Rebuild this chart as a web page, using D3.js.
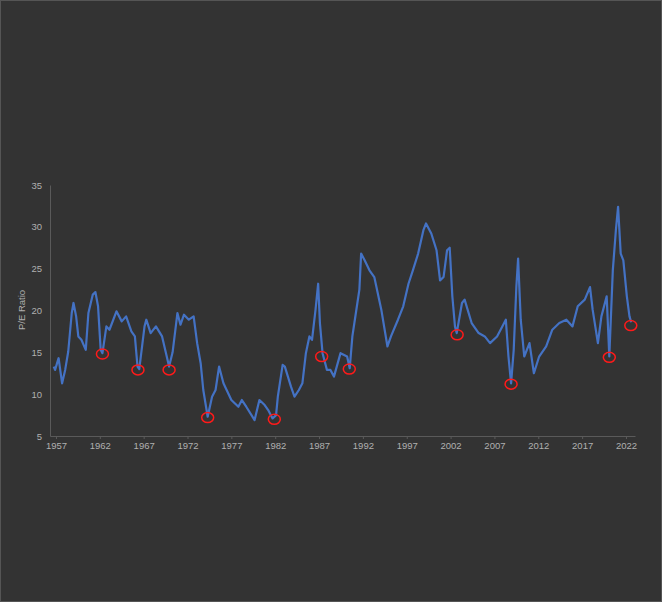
<!DOCTYPE html><html><head><meta charset="utf-8"><script src="https://cdn.jsdelivr.net/npm/d3@7"></script>
<style>body{margin:0;background:#333333}svg{display:block}</style></head><body><script>
const years=[1956.75,1956.9,1957.3,1957.7,1958.05,1958.4,1958.8,1959.0,1959.3,1959.55,1959.9,1960.4,1960.7,1961.2,1961.5,1961.8,1962.1,1962.3,1962.75,1963.1,1963.9,1964.5,1965.0,1965.6,1966.0,1966.3,1966.5,1967.1,1967.3,1967.8,1968.4,1969.1,1969.9,1970.3,1970.85,1971.2,1971.6,1972.15,1972.7,1973.1,1973.5,1973.8,1974.3,1974.8,1975.2,1975.6,1976.1,1977.0,1977.8,1978.2,1978.7,1979.65,1980.2,1980.8,1981.2,1981.7,1982.1,1982.3,1982.85,1983.1,1983.8,1984.2,1984.7,1985.1,1985.5,1985.9,1986.2,1986.6,1986.9,1987.1,1987.4,1987.9,1988.3,1988.7,1989.45,1990.2,1990.5,1990.8,1991.2,1991.6,1991.8,1992.2,1992.75,1993.3,1994.1,1994.8,1995.2,1996.0,1996.6,1997.2,1997.7,1998.3,1998.9,1999.2,1999.8,2000.4,2000.8,2001.2,2001.6,2001.9,2002.2,2002.5,2002.7,2003.3,2003.6,2004.4,2005.2,2005.9,2006.5,2007.3,2007.9,2008.3,2008.6,2008.9,2009.2,2009.5,2009.7,2010.0,2010.4,2011.0,2011.5,2012.1,2012.9,2013.6,2014.4,2015.2,2015.9,2016.5,2017.3,2017.9,2018.2,2018.8,2019.2,2019.8,2020.1,2020.5,2020.85,2021.1,2021.4,2021.7,2022.1,2022.4,2022.6];
const pe=[13.3,12.9,14.3,11.3,12.9,15.1,19.7,20.9,19.3,16.9,16.5,15.3,19.7,21.9,22.2,20.5,15.3,14.9,18.1,17.7,19.9,18.7,19.3,17.5,16.9,13.3,13.0,18.1,18.9,17.3,18.1,16.9,13.3,15.0,19.7,18.3,19.5,18.9,19.3,16.1,13.7,10.5,7.3,9.7,10.5,13.3,11.3,9.3,8.5,9.3,8.5,6.9,9.3,8.7,8.1,7.1,7.5,9.7,13.5,13.3,10.9,9.7,10.5,11.3,14.9,16.9,16.5,20.1,23.2,18.5,14.9,12.9,12.9,12.1,14.9,14.5,13.1,16.9,19.7,22.5,26.8,26.0,24.8,24.0,20.1,15.7,16.9,18.9,20.5,23.2,24.8,26.8,29.6,30.4,29.2,27.2,23.6,24.0,27.2,27.5,21.7,18.1,17.3,20.9,21.3,18.5,17.3,16.9,16.1,16.9,18.1,18.9,14.5,11.3,15.3,22.8,26.2,18.9,14.5,16.1,12.5,14.5,15.7,17.7,18.5,18.9,18.1,20.5,21.3,22.8,20.1,16.1,19.3,21.7,14.5,24.8,29.6,32.4,26.8,26.0,21.7,19.3,18.6];
const circYears=[1962.3,1966.35,1969.9,1974.3,1981.9,1987.3,1990.45,2002.75,2008.9,2020.1,2022.55];
const circVals=[14.8,12.9,12.9,7.2,7.0,14.5,13.0,17.1,11.2,14.4,18.2];
const yTicks=[5,10,15,20,25,30,35];
const xTicks=[1957,1962,1967,1972,1977,1982,1987,1992,1997,2002,2007,2012,2017,2022];
const W=662,H=602;
const svg=d3.select("body").append("svg").attr("width",W).attr("height",H);
svg.append("rect").attr("x",0.5).attr("y",0.5).attr("width",W-1).attr("height",H-1).attr("fill","#333333").attr("stroke","#555");
const x=d3.scaleLinear().domain([1956.32,2023.03]).range([50,635]);
const y=d3.scaleLinear().domain([5,35]).range([436,185]);
const gx=svg.append("g").attr("transform","translate(0,436)").call(d3.axisBottom(x).tickValues(xTicks).tickFormat(d3.format("d")).tickSize(3).tickSizeOuter(0));
const gy=svg.append("g").attr("transform","translate(50,0)").call(d3.axisLeft(y).tickValues(yTicks).tickSize(0).tickPadding(8));
[gx,gy].forEach(g=>{g.selectAll("path,line").attr("stroke","#5a5a5a");g.selectAll("text").attr("fill","#b0b0b0").style("font-family","Liberation Sans, Arial").style("font-size","9.5px");});
svg.append("text").attr("transform","translate(25,310) rotate(-90)").attr("text-anchor","middle").attr("fill","#b0b0b0").style("font-family","Liberation Sans, Arial").style("font-size","9.5px").text("P/E Ratio");
const line=d3.line().x((d,i)=>x(years[i])).y(d=>y(d));
svg.append("path").datum(pe).attr("d",line).attr("fill","none").attr("stroke","#4472c4").attr("stroke-width",2.2).attr("stroke-linejoin","round");
svg.selectAll("ellipse").data(circVals).join("ellipse").attr("cx",(d,i)=>x(circYears[i])).attr("cy",d=>y(d)).attr("rx",6).attr("ry",5).attr("fill","none").attr("stroke","#ff1a1a").attr("stroke-width",1.5);
</script></body></html>
